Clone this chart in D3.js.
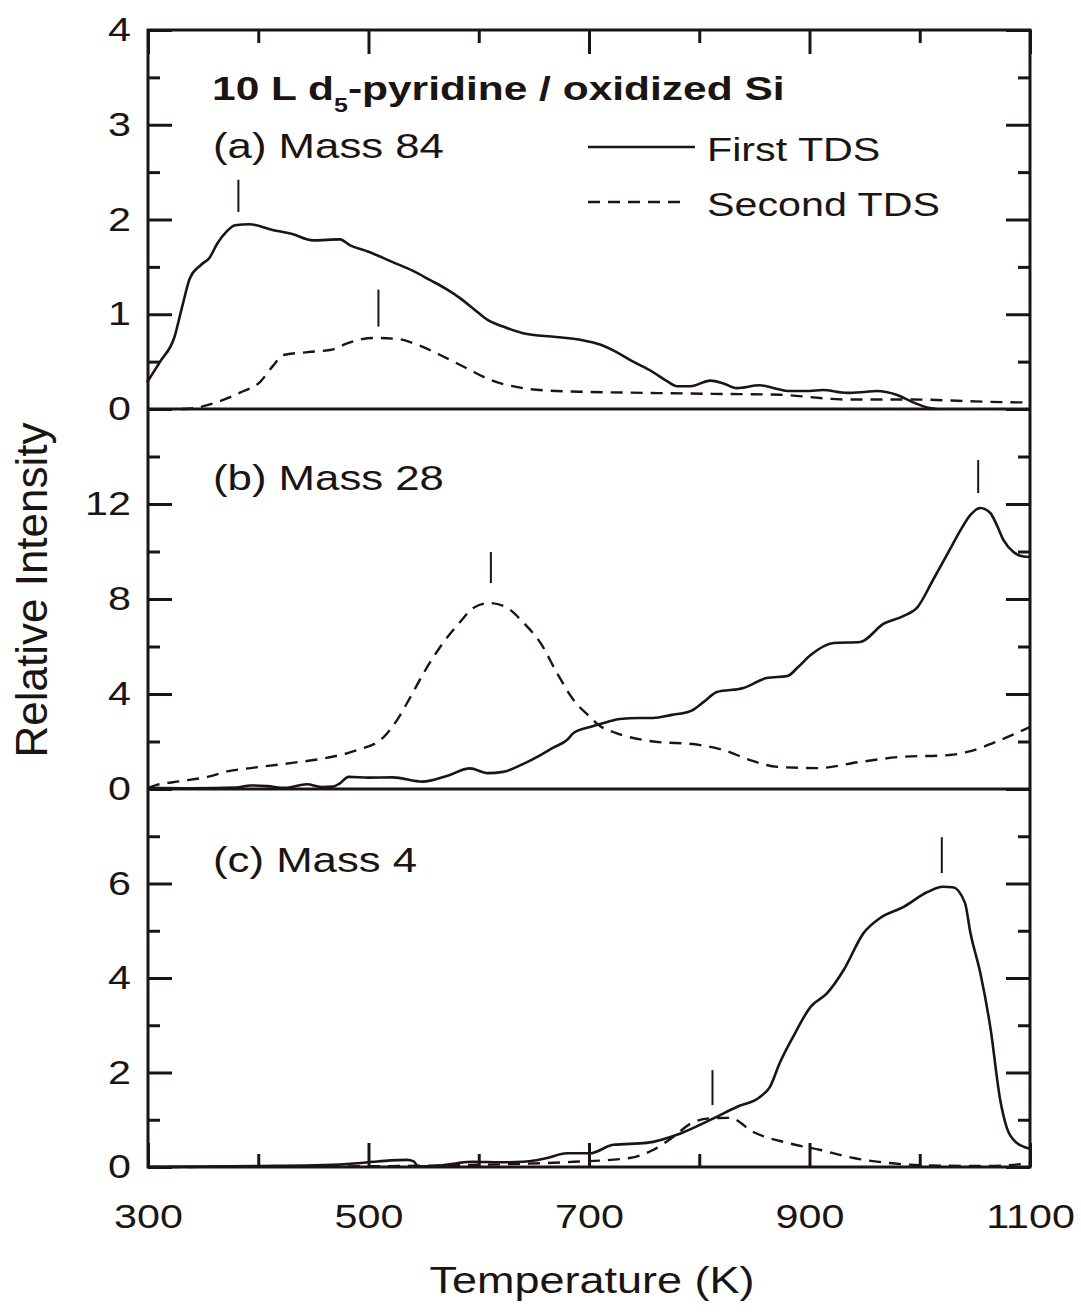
<!DOCTYPE html>
<html>
<head>
<meta charset="utf-8">
<script src="https://cdn.jsdelivr.net/npm/d3@7"></script>
<style>
  body { margin: 0; background: #fff; }
  svg { display: block; }
  text { font-family: "Liberation Sans", Arial, Helvetica, sans-serif; fill: #1c1412; }
</style>
</head>
<body>
<svg id="chart" width="1081" height="1312"></svg>
<script>
// ---- data: temperature (K), relative intensity ----
const xTickValues = [300, 400, 500, 600, 700, 800, 900, 1000, 1100];
const xTickLabels = [300, 500, 700, 900, 1100];

const yTicksA = [0, 1, 2, 3, 4];
const yTicksB = [0, 4, 8, 12];
const yTicksC = [0, 2, 4, 6];

// (a) Mass 84
const mass84First = [
  [299,0.28],[311,0.50],[324,0.76],[331,1.08],[338,1.38],[348,1.52],[356,1.60],[363,1.75],
  [371,1.87],[379,1.94],[392,1.95],[413,1.89],[430,1.85],[450,1.78],[474,1.79],[483,1.73],
  [500,1.66],[522,1.55],[540,1.46],[556,1.36],[570,1.27],[583,1.17],[596,1.05],[608,0.94],
  [622,0.87],[640,0.80],[670,0.76],[692,0.73],[710,0.68],[725,0.60],[740,0.50],[758,0.39],
  [770,0.30],[780,0.24],[792,0.24],[810,0.30],[822,0.27],[834,0.22],[855,0.25],[868,0.22],
  [880,0.19],[900,0.19],[912,0.20],[934,0.17],[950,0.18],[961,0.19],[979,0.15],[994,0.07],
  [1009,0.01],[1015,0.0]
];
const mass84Second = [
  [330,0.0],[342,0.01],[362,0.07],[383,0.17],[402,0.29],[413,0.45],[423,0.57],[445,0.60],
  [468,0.63],[480,0.69],[504,0.75],[526,0.74],[544,0.68],[565,0.57],[589,0.43],[610,0.31],
  [640,0.22],[670,0.19],[701,0.18],[752,0.17],[812,0.16],[873,0.15],[934,0.10],[994,0.10],
  [1050,0.08],[1091,0.07],[1100,0.07]
];

// (b) Mass 28
const mass28First = [
  [300,0.05],[340,0.03],[380,0.06],[393,0.15],[408,0.12],[425,0.05],[444,0.20],[458,0.08],
  [468,0.10],[474,0.24],[482,0.51],[500,0.48],[522,0.49],[549,0.31],[571,0.55],[592,0.87],
  [608,0.67],[622,0.72],[640,1.05],[656,1.43],[668,1.75],[680,2.06],[686,2.36],[701,2.61],
  [715,2.80],[728,2.95],[745,2.99],[758,2.99],[775,3.12],[792,3.28],[805,3.70],[816,4.08],
  [840,4.25],[861,4.67],[880,4.76],[890,5.15],[901,5.64],[922,6.15],[946,6.19],[967,6.95],
  [985,7.28],[998,7.66],[1012,8.80],[1027,10.06],[1037,10.90],[1046,11.54],[1055,11.83],
  [1064,11.62],[1070,11.10],[1076,10.48],[1085,9.98],[1093,9.80],[1100,9.77]
];
const mass28Second = [
  [300,0.05],[308,0.17],[330,0.33],[354,0.51],[373,0.75],[393,0.88],[429,1.09],[462,1.31],
  [490,1.64],[513,2.15],[526,2.91],[538,3.87],[550,4.88],[565,5.98],[583,7.03],[595,7.62],
  [610,7.83],[626,7.62],[640,7.03],[656,6.15],[671,4.88],[686,3.75],[701,3.03],[710,2.65],
  [722,2.40],[755,2.02],[801,1.85],[822,1.64],[846,1.22],[871,0.93],[907,0.88],[946,1.14],
  [982,1.35],[1027,1.43],[1043,1.56],[1073,2.06],[1100,2.61]
];

// (c) Mass 4
const mass4First = [
  [300,0.0],[400,0.02],[460,0.04],[490,0.08],[504,0.11],[520,0.14],[535,0.15],[541,0.12],
  [545,0.01],[565,0.03],[580,0.08],[595,0.11],[620,0.10],[640,0.11],[660,0.18],[680,0.29],
  [701,0.29],[722,0.47],[752,0.51],[783,0.71],[813,1.03],[834,1.27],[855,1.48],[864,1.69],
  [873,2.20],[885,2.75],[901,3.39],[916,3.68],[931,4.17],[949,4.95],[964,5.27],[985,5.50],
  [1007,5.82],[1021,5.93],[1030,5.92],[1041,5.59],[1046,4.95],[1055,4.10],[1064,2.96],
  [1073,1.42],[1079,0.83],[1088,0.51],[1098,0.40],[1100,0.38]
];
const mass4Second = [
  [300,0.0],[450,0.01],[560,0.03],[626,0.06],[686,0.11],[737,0.19],[758,0.36],[776,0.63],
  [793,0.93],[810,1.03],[828,1.04],[849,0.74],[880,0.51],[910,0.36],[940,0.19],[970,0.09],
  [1000,0.04],[1061,0.02],[1100,0.08]
];

// peak markers: temperature, lower and upper intensity
const peaksA = [[382,2.08,2.42],[509,0.87,1.26]];
const peaksB = [[611,8.67,9.98],[1053,12.46,13.85]];
const peaksC = [[812,1.31,2.05],[1020,6.22,6.98]];

const seriesNames = ["First TDS", "Second TDS"];
const panelTitles = ["(a) Mass 84", "(b) Mass 28", "(c) Mass 4"];

// ---- layout ----
const svg = d3.select("#chart");
const ink = "#1c1412";
const plotLeft = 148, plotRight = 1030;
const stretch = 1.25;          // horizontal widening of the lettering
const fs = 33;                 // base font size

const x = d3.scaleLinear().domain([300, 1100]).range([plotLeft, plotRight]);

const panels = [
  { top: 30,  bottom: 409,  max: 4,  step: 1, labels: yTicksA, first: mass84First, second: mass84Second, peaks: peaksA, title: panelTitles[0], titleY: 158 },
  { top: 409, bottom: 789,  max: 16, step: 4, labels: yTicksB, first: mass28First, second: mass28Second, peaks: peaksB, title: panelTitles[1], titleY: 490 },
  { top: 789, bottom: 1167, max: 8,  step: 2, labels: yTicksC, first: mass4First,  second: mass4Second,  peaks: peaksC, title: panelTitles[2], titleY: 872 }
];

function stretchText(sel) {
  // widen each label around its own anchor point
  sel.each(function () {
    const t = d3.select(this);
    const tx = +t.attr("x") || 0;
    const ty = +t.attr("y") || 0;
    t.attr("x", 0).attr("y", 0)
     .attr("transform", `translate(${tx},${ty}) scale(${stretch},1)`);
  });
}

function styleAxis(g) {
  g.select(".domain").remove();
  g.selectAll(".tick line").attr("stroke", ink).attr("stroke-width", 3);
  g.selectAll(".tick text").attr("font-size", fs).attr("fill", ink)
    .style("font-family", '"Liberation Sans", Arial, sans-serif');
}

const line = d3.line().curve(d3.curveMonotoneX);

panels.forEach(p => {
  const y = d3.scaleLinear().domain([0, p.max]).range([p.bottom, p.top]);
  const major = d3.range(0, p.max + 1e-9, p.step);
  const minor = d3.range(p.step / 2, p.max, p.step);
  const fmt = d => p.labels.includes(d) ? String(d) : "";

  // left axis: major with labels, minor without
  svg.append("g").attr("transform", `translate(${plotLeft},0)`)
    .call(d3.axisLeft(y).tickValues(major).tickSize(-24).tickPadding(17).tickFormat(fmt))
    .call(styleAxis)
    .call(g => g.selectAll(".tick text").call(stretchText));
  svg.append("g").attr("transform", `translate(${plotLeft},0)`)
    .call(d3.axisLeft(y).tickValues(minor).tickSize(-12).tickFormat(""))
    .call(styleAxis);
  // right axis, ticks pointing inward
  svg.append("g").attr("transform", `translate(${plotRight},0)`)
    .call(d3.axisRight(y).tickValues(major).tickSize(-24).tickFormat(""))
    .call(styleAxis);
  svg.append("g").attr("transform", `translate(${plotRight},0)`)
    .call(d3.axisRight(y).tickValues(minor).tickSize(-12).tickFormat(""))
    .call(styleAxis);

  const toPath = data => line(data.map(d => [x(d[0]), y(d[1])]));

  svg.append("path").attr("d", toPath(p.second))
    .attr("fill", "none").attr("stroke", ink).attr("stroke-width", 2.4)
    .attr("stroke-dasharray", "12,8");
  svg.append("path").attr("d", toPath(p.first))
    .attr("fill", "none").attr("stroke", ink).attr("stroke-width", 2.6)
    .attr("stroke-linejoin", "round");

  // peak position markers
  svg.append("g").selectAll("line").data(p.peaks).join("line")
    .attr("x1", d => x(d[0])).attr("x2", d => x(d[0]))
    .attr("y1", d => y(d[1])).attr("y2", d => y(d[2]))
    .attr("stroke", ink).attr("stroke-width", 2);

  // panel label
  svg.append("text").attr("x", 213).attr("y", p.titleY)
    .attr("font-size", fs + 2).text(p.title).call(stretchText);
});

// top and bottom temperature axes (ticks point into the plot)
const majorX = xTickValues.filter(v => xTickLabels.includes(v));
const minorX = xTickValues.filter(v => !xTickLabels.includes(v));
svg.append("g").attr("transform", "translate(0,30)")
  .call(d3.axisTop(x).tickValues(majorX).tickSize(-24).tickFormat("")).call(styleAxis);
svg.append("g").attr("transform", "translate(0,30)")
  .call(d3.axisTop(x).tickValues(minorX).tickSize(-13).tickFormat("")).call(styleAxis);
svg.append("g").attr("transform", "translate(0,1167)")
  .call(d3.axisBottom(x).tickValues(majorX).tickSize(-24).tickPadding(38).tickFormat(d3.format("d")))
  .call(styleAxis)
  .call(g => g.selectAll(".tick text").call(stretchText));
svg.append("g").attr("transform", "translate(0,1167)")
  .call(d3.axisBottom(x).tickValues(minorX).tickSize(-13).tickFormat("")).call(styleAxis);

// frame and panel separators
svg.append("rect").attr("x", plotLeft).attr("y", 30)
  .attr("width", plotRight - plotLeft).attr("height", 1167 - 30)
  .attr("fill", "none").attr("stroke", ink).attr("stroke-width", 3);
[409, 789].forEach(yy => svg.append("line")
  .attr("x1", plotLeft).attr("x2", plotRight).attr("y1", yy).attr("y2", yy)
  .attr("stroke", ink).attr("stroke-width", 3));

// heading
const head = svg.append("text").attr("x", 212).attr("y", 100)
  .attr("font-size", 34).attr("font-weight", "bold");
head.append("tspan").text("10 L d");
head.append("tspan").attr("font-size", 20).attr("dy", 12).text("5");
head.append("tspan").attr("dy", -12).text("-pyridine / oxidized Si");
head.call(stretchText);

// legend
const legend = svg.append("g");
legend.append("line").attr("x1", 588).attr("x2", 695).attr("y1", 147).attr("y2", 147)
  .attr("stroke", ink).attr("stroke-width", 2.4);
legend.append("line").attr("x1", 588).attr("x2", 688).attr("y1", 202).attr("y2", 202)
  .attr("stroke", ink).attr("stroke-width", 2.4).attr("stroke-dasharray", "12,8");
legend.append("text").attr("x", 707).attr("y", 161).attr("font-size", fs).text(seriesNames[0]).call(stretchText);
legend.append("text").attr("x", 707).attr("y", 216).attr("font-size", fs).text(seriesNames[1]).call(stretchText);

// axis titles
svg.append("text").attr("text-anchor", "middle").attr("font-size", 36)
  .attr("transform", `translate(592,1293) scale(${stretch},1)`).text("Temperature (K)");
svg.append("text").attr("text-anchor", "middle").attr("font-size", 44)
  .attr("transform", "translate(47,590) rotate(-90)").text("Relative Intensity");
</script>
</body>
</html>
